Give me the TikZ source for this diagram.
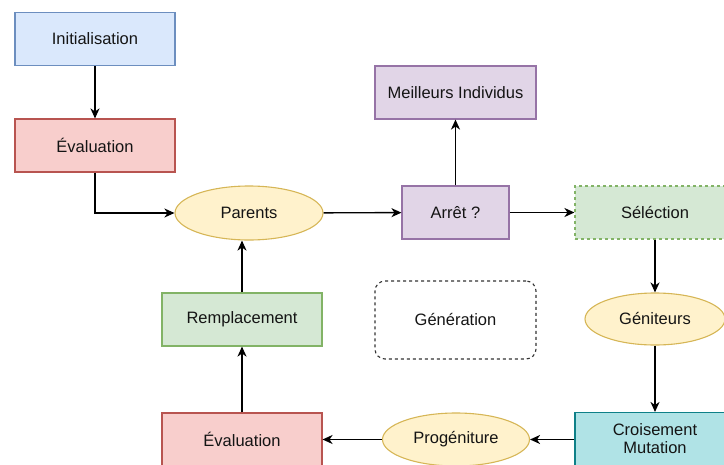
\documentclass[tikz,border=0pt]{standalone}
\usepackage{fontspec}
\setmainfont{Liberation Sans}
\usetikzlibrary{shapes.geometric,arrows.meta}
\definecolor{blueF}{HTML}{DAE8FC}\definecolor{blueS}{HTML}{6C8EBF}
\definecolor{redF}{HTML}{F8CECC}\definecolor{redS}{HTML}{B85450}
\definecolor{yelF}{HTML}{FFF2CC}\definecolor{yelS}{HTML}{D6B656}
\definecolor{purF}{HTML}{E1D5E7}\definecolor{purS}{HTML}{9673A6}
\definecolor{grnF}{HTML}{D5E8D4}\definecolor{grnS}{HTML}{82B366}
\definecolor{cyaF}{HTML}{B0E3E6}\definecolor{cyaS}{HTML}{0E8088}
\begin{document}
\begin{tikzpicture}[x=1pt,y=-1pt,
  every node/.style={font=\fontsize{16.5}{19}\selectfont, text=black!92, inner sep=0pt, align=center},
  box/.style={rectangle, line width=1.1pt, minimum width=160pt, minimum height=53pt},
  oval/.style={ellipse, line width=1.1pt, minimum width=148pt, minimum height=54pt, draw=yelS, fill=yelF},
  bluebox/.style={box, draw=blueS, fill=blueF},
  redbox/.style={box, draw=redS, fill=redF},
  purbox/.style={box, draw=purS, fill=purF},
  grnbox/.style={box, draw=grnS, fill=grnF},
  cyabox/.style={box, draw=cyaS, fill=cyaF},
  link/.style={line width=1.4pt, draw=black, -{Stealth[length=10pt,width=9pt,inset=3pt]}}
]
\useasboundingbox (0,0) rectangle (724,464);

\node[bluebox] (init) at (95,39) {Initialisation};
\node[redbox] (evalA) at (95,145.5) {Évaluation};
\node[oval] (parents) at (249,213) {Parents};
\node[purbox, minimum width=107pt] (stop) at (455.5,212.5) {Arrêt ?};
\node[purbox, minimum width=161pt] (best) at (455.5,92.5) {Meilleurs Individus};
\node[grnbox, dashed] (select) at (655,212.5) {Séléction};
\node[oval, minimum width=140pt, minimum height=52pt] (genit) at (655,319) {Géniteurs};
\node[cyabox] (cross) at (655,439) {Croisement\\[-1pt]Mutation};
\node[oval, minimum width=147pt, minimum height=53pt] (prog) at (456,439.5) {Progéniture};
\node[redbox] (evalB) at (242,439.5) {Évaluation};
\node[grnbox] (repl) at (242,319.5) {Remplacement};
\node[rectangle, rounded corners=10pt, dashed, draw=black!80, line width=1.1pt,
      minimum width=161pt, minimum height=78pt] (gen) at (455.5,320) {Génération};

\draw[link] (init) -- (evalA);
\draw[link] (evalA.south) |- (parents.west);
\draw[link] (parents) -- (stop);
\draw[link] (stop) -- (best);
\draw[link] (stop) -- (select);
\draw[link] (select) -- (genit);
\draw[link] (genit) -- (cross);
\draw[link] (cross.west |- prog.east) -- (prog.east);
\draw[link] (prog) -- (evalB);
\draw[link] (evalB) -- (repl);
\draw[link] (repl.north) -- (repl.north |- parents.south);
\end{tikzpicture}
\end{document}
